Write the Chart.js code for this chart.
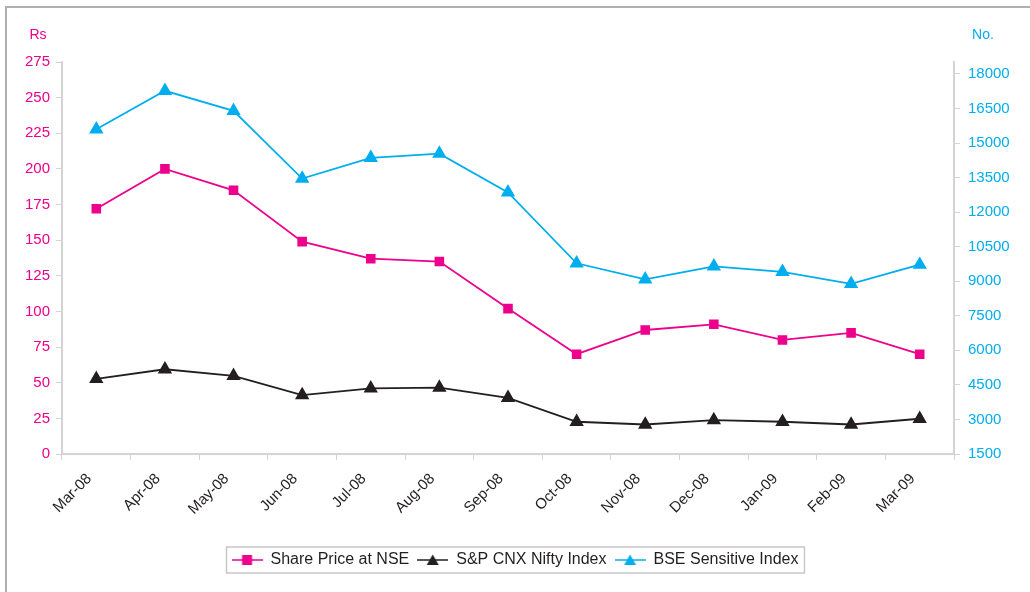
<!DOCTYPE html>
<html>
<head>
<meta charset="utf-8">
<script src="https://cdn.jsdelivr.net/npm/chart.js@4/dist/chart.umd.min.js"></script>
<style>
  html, body { margin: 0; padding: 0; background: #fff; }
  #wrap { width: 1030px; height: 592px; position: relative; }
</style>
</head>
<body>
<div id="wrap"><canvas id="stockChart"></canvas></div>
<script>
// 月ラベル
const months = ['Mar-08', 'Apr-08', 'May-08', 'Jun-08', 'Jul-08', 'Aug-08', 'Sep-08',
                'Oct-08', 'Nov-08', 'Dec-08', 'Jan-09', 'Feb-09', 'Mar-09'];

// 株価 (Rs, 左軸)
const sharePrice = [172, 200, 185, 149, 137, 135, 102, 70, 87, 91, 80, 85, 70];
// S&P CNX Nifty (右軸)
const niftyIndex = [4760, 5180, 4890, 4060, 4350, 4380, 3940, 2900, 2780, 2970, 2900, 2780, 3030];
// BSE Sensex (右軸)
const sensexIndex = [15600, 17270, 16400, 13460, 14360, 14540, 12860, 9780, 9080, 9650, 9410, 8890, 9720];

// 軸の目盛り
const leftTicks = [0, 25, 50, 75, 100, 125, 150, 175, 200, 225, 250, 275];
const rightTicks = [1500, 3000, 4500, 6000, 7500, 9000, 10500, 12000, 13500, 15000, 16500, 18000];

const PINK = '#ec008c';
const BLACK = '#231f20';
const CYAN = '#00aeef';
const AXIS = '#d4d4d4';
const FONT = 'Liberation Sans, Arial, sans-serif';

// 凡例用の「線＋マーカー」画像を作る
function legendIcon(color, shape) {
    const c = document.createElement('canvas');
    c.width = 31; c.height = 12;
    const g = c.getContext('2d');
    g.strokeStyle = color; g.lineWidth = 1.5;
    g.beginPath(); g.moveTo(0, 6); g.lineTo(31, 6); g.stroke();
    g.fillStyle = color;
    if (shape === 'rect') {
        g.fillRect(10.5, 1, 10, 10);
    } else {
        g.beginPath(); g.moveTo(15.5, 0.5); g.lineTo(21.5, 11); g.lineTo(9.5, 11); g.closePath(); g.fill();
    }
    return c;
}

// 枠線・軸タイトル・凡例枠を描くプラグイン
const decor = {
    id: 'decor',
    afterDraw(chart) {
        const ctx = chart.ctx;
        ctx.save();
        // 外枠（上と左）
        ctx.strokeStyle = '#b0b0b0';
        ctx.lineWidth = 2;
        ctx.beginPath();
        ctx.moveTo(6, 592); ctx.lineTo(6, 7); ctx.lineTo(1030, 7);
        ctx.stroke();
        // 軸タイトル
        ctx.font = '14px ' + FONT;
        ctx.textBaseline = 'middle';
        ctx.textAlign = 'center';
        ctx.fillStyle = PINK;
        ctx.fillText('Rs', 38, 35);
        ctx.fillStyle = CYAN;
        ctx.fillText('No.', 983, 35);
        // 凡例の枠
        const boxes = chart.legend.legendHitBoxes;
        if (boxes && boxes.length) {
            const l = Math.min(...boxes.map(b => b.left)) - 5;
            const r = Math.max(...boxes.map(b => b.left + b.width)) + 6;
            const t = Math.min(...boxes.map(b => b.top)) - 5;
            const btm = Math.max(...boxes.map(b => b.top + b.height)) + 5;
            ctx.strokeStyle = '#c8c8c8';
            ctx.lineWidth = 1.5;
            ctx.strokeRect(l, t, r - l, btm - t);
        }
        ctx.restore();
    }
};

const icons = [legendIcon(PINK, 'rect'), legendIcon(BLACK, 'tri'), legendIcon(CYAN, 'tri')];

new Chart(document.getElementById('stockChart'), {
    type: 'line',
    data: {
        labels: months,
        datasets: [
            {
                label: 'Share Price at NSE',
                data: sharePrice,
                yAxisID: 'yLeft',
                borderColor: PINK, backgroundColor: PINK,
                borderWidth: 1.8, pointStyle: 'rect', pointRadius: 5.5, pointHoverRadius: 5.5
            },
            {
                label: 'S&P CNX Nifty Index',
                data: niftyIndex,
                yAxisID: 'yRight',
                borderColor: BLACK, backgroundColor: BLACK,
                borderWidth: 1.8, pointStyle: 'triangle', pointRadius: 6.5, pointHoverRadius: 6.5
            },
            {
                label: 'BSE Sensitive Index',
                data: sensexIndex,
                yAxisID: 'yRight',
                borderColor: CYAN, backgroundColor: CYAN,
                borderWidth: 1.8, pointStyle: 'triangle', pointRadius: 6.5, pointHoverRadius: 6.5
            }
        ]
    },
    options: {
        responsive: true,
        maintainAspectRatio: false,
        animation: false,
        layout: { padding: { top: 62, left: 0, right: 0, bottom: 14 } },
        scales: {
            x: {
                offset: true,
                grid: { offset: true, drawOnChartArea: false, color: AXIS, tickLength: 6 },
                border: { color: AXIS, width: 2 },
                ticks: {
                    autoSkip: false, minRotation: 45, maxRotation: 45, labelOffset: -7,
                    color: '#231f20', font: { family: FONT, size: 15 }, padding: 10
                },
                afterFit(scale) { scale.height = 90; }
            },
            yLeft: {
                position: 'left',
                min: 0, max: 275,
                afterBuildTicks(scale) { scale.ticks = leftTicks.map(v => ({ value: v })); },
                grid: { drawOnChartArea: false, color: AXIS, tickLength: 6 },
                border: { color: AXIS, width: 2 },
                ticks: { color: PINK, font: { family: FONT, size: 15 }, padding: 6 },
                afterFit(scale) { scale.width = 62; }
            },
            yRight: {
                position: 'right',
                min: 1500, max: 18520,
                afterBuildTicks(scale) { scale.ticks = rightTicks.map(v => ({ value: v })); },
                grid: { drawOnChartArea: false, color: AXIS, tickLength: 6 },
                border: { color: AXIS, width: 2 },
                ticks: {
                    color: CYAN, font: { family: FONT, size: 15 }, padding: 8,
                    callback: v => String(v)
                },
                afterFit(scale) { scale.width = 76; }
            }
        },
        plugins: {
            tooltip: { enabled: false },
            legend: {
                position: 'bottom',
                labels: {
                    color: '#231f20',
                    font: { family: FONT, size: 16 },
                    usePointStyle: true,
                    pointStyleWidth: 31,
                    padding: 8,
                    generateLabels(chart) {
                        return chart.data.datasets.map((ds, i) => ({
                            text: ds.label,
                            pointStyle: icons[i],
                            fillStyle: ds.borderColor,
                            strokeStyle: ds.borderColor,
                            lineWidth: 0,
                            fontColor: '#231f20',
                            datasetIndex: i,
                            hidden: false
                        }));
                    }
                }
            }
        }
    },
    plugins: [decor]
});
</script>
</body>
</html>
